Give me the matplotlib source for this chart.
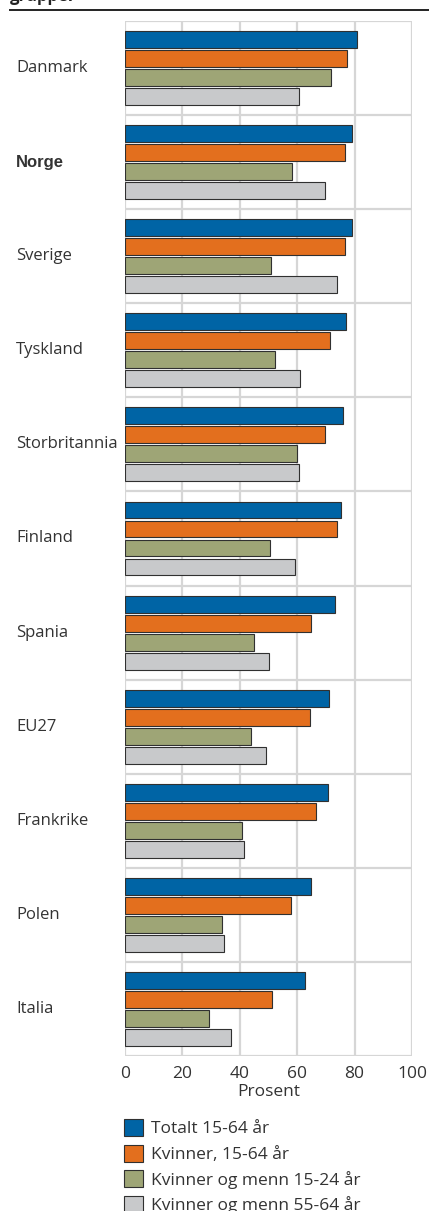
import matplotlib
matplotlib.use('Agg')
import matplotlib.pyplot as plt
import matplotlib.transforms as mtransforms
import numpy as np

plt.rcParams['font.family'] = ['Open Sans', 'DejaVu Sans']

countries = ['Danmark', 'Norge', 'Sverige', 'Tyskland', 'Storbritannia', 'Finland',
             'Spania', 'EU27', 'Frankrike', 'Polen', 'Italia']
totalt = [80.7, 79.1, 79.0, 77.0, 75.8, 75.1, 73.1, 71.2, 70.9, 64.7, 62.6]
kvinner = [77.5, 76.5, 76.5, 71.5, 69.6, 73.8, 64.9, 64.4, 66.4, 57.9, 51.3]
unge = [71.9, 58.1, 51.0, 52.1, 59.8, 50.5, 45.1, 44.0, 40.6, 33.9, 29.2]
eldre = [60.5, 69.7, 74.0, 61.1, 60.5, 59.2, 50.2, 49.2, 41.5, 34.6, 37.1]

series = ['Totalt 15-64 år', 'Kvinner, 15-64 år', 'Kvinner og menn 15-24 år', 'Kvinner og menn 55-64 år']
colors = ['#0064a5', '#e36f1e', '#9ea576', '#c8c9cb']
xticks = [0, 20, 40, 60, 80, 100]

W, H = 429, 1211
fig = plt.figure(figsize=(W / 100, H / 100), dpi=100)
ax = fig.add_axes([125 / W, 1 - 1056 / H, (412 - 125) / W, (1056 - 21) / H])

grid_c = '#d6d6d6'
txt_c = '#333333'
y = np.arange(len(countries))
pitch = 0.202
h = 0.18
handles = []
for i, (vals, c) in enumerate(zip([totalt, kvinner, unge, eldre], colors)):
    b = ax.barh(y + (i - 1.5) * pitch, vals, height=h, color=c,
                edgecolor='#303030', linewidth=0.8, zorder=3, label=series[i])
    handles.append(b)

ax.set_xlim(0, 100)
ax.set_ylim(len(countries) - 0.5, -0.5)
ax.set_axisbelow(True)
for xv in xticks:
    ax.axvline(xv, color=grid_c, lw=1.6, zorder=1)
for yb in np.arange(-0.5, len(countries), 1.0):
    ax.axhline(yb, color=grid_c, lw=1.6, zorder=1)
for s in ax.spines.values():
    s.set_visible(False)

ax.set_yticks([])
ax.set_xticks(xticks)
ax.set_xticklabels([str(v) for v in xticks])
ax.tick_params(axis='x', length=0, pad=7, labelsize=12.5, labelcolor=txt_c)
ax.set_xlabel('Prosent', fontsize=12.5, color=txt_c, labelpad=2)

trans = mtransforms.blended_transform_factory(fig.transFigure, ax.transData)
for yi, name in zip(y, countries):
    if name == 'Norge':
        ax.text(16 / W, yi, name, transform=trans, ha='left', va='center',
                fontsize=12, fontweight='bold', color=txt_c, family=['Liberation Sans'])
    else:
        ax.text(16 / W, yi, name, transform=trans, ha='left', va='center',
                fontsize=12, color=txt_c)

# title line at the top (title text itself lies above the crop)
fig.add_artist(plt.Line2D([10 / W, 1], [1 - 10 / H, 1 - 10 / H], color='#222222', lw=1.4,
                          transform=fig.transFigure))
fig.text(10 / W, 1 - 1 / H, 'grupper', fontsize=12, fontweight='bold', color='#222222',
         va='baseline', ha='left')

fig.legend(handles, series, loc='upper left', bbox_to_anchor=(124 / W, 1 - 1119 / H),
           frameon=False, fontsize=12.5, handlelength=1.12, handleheight=1.12,
           labelspacing=0.42, handletextpad=0.45, borderpad=0, borderaxespad=0,
           labelcolor=txt_c)

fig.savefig('out.png', dpi=100)
